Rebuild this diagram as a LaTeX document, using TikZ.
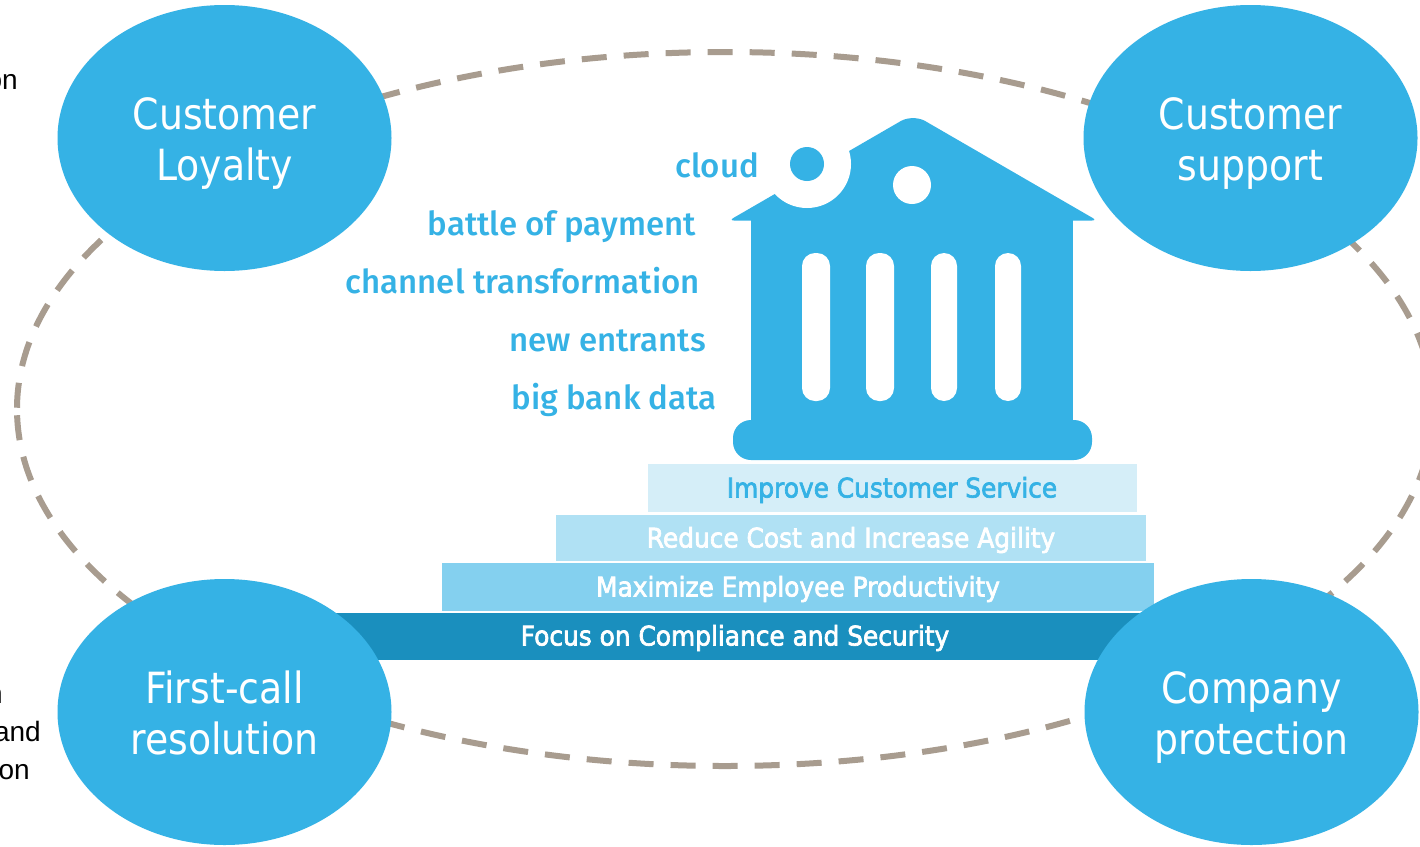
\documentclass[tikz,border=0pt]{standalone}
\usepackage{fontspec}
\setmainfont{DejaVu Sans}
\newfontfamily\ovalfont[FakeStretch=0.88]{DejaVu Sans}
\newfontfamily\barfont[FakeStretch=0.92,FakeBold=2.5]{DejaVu Sans}
\newfontfamily\sidefont{Fira Sans Medium}
\newfontfamily\cutfont{Liberation Sans}
\usetikzlibrary{shapes.geometric}
\definecolor{ovalblue}{HTML}{35B2E5}
\definecolor{ringgrey}{HTML}{A89C8F}
\definecolor{barone}{HTML}{D5EEF8}
\definecolor{bartwo}{HTML}{B0E1F4}
\definecolor{barthree}{HTML}{84D0EF}
\definecolor{barfour}{HTML}{1A8FBE}
\begin{document}
\begin{tikzpicture}[x=1pt,y=-1pt,
    oval/.style={shape = ellipse, fill=ovalblue, text=white, inner sep=0pt, minimum width=334, minimum height=266, align=center, text height=87, text depth=3, font=\ovalfont\fontsize{43}{51}\selectfont},
    sidelabel/.style={anchor=east, inner sep=0pt, text=ovalblue, text height=24, text depth=7, font=\sidefont\fontsize{33}{38}\selectfont},
    bar/.style={shape = rectangle, inner sep=0pt},
    bartext/.style={inner sep=0pt, text height=19, text depth=6, font=\barfont\fontsize{27}{32}\selectfont},
    cuttext/.style={anchor=east, inner sep=0pt, text=black, text height=20, text depth=6, font=\cutfont\fontsize{28}{32}\selectfont}]
    \clip (0, 0) rectangle (1420, 846);
    \fill[white] (0, 0) rectangle (1420, 846);
    \draw[ringgrey, line width=6pt, dash pattern=on 25pt off 17.04pt] (725, 409) ++(179:708 and 357) arc [start angle=179, end angle=-180, x radius=708, y radius=357];
    \node (CutOne) [cuttext] at (18, 82) {on};
    \node (CutTwo) [cuttext] at (3, 696) {n};
    \node (CutThree) [cuttext] at (41, 734) {and};
    \node (CutFour) [cuttext] at (30, 772) {on};
    \fill[ovalblue, rounded corners=18] (733, 420) rectangle (1092, 460);
    \fill[ovalblue] (751, 218) rectangle (1073, 430);
    \fill[ovalblue, rounded corners=5] (729, 220.5) [rounded corners=14] -- (913, 114) [rounded corners=5] -- (1097, 220.5) -- cycle;
    \foreach \colleft/\colright in {802/830, 866/894, 931/957, 995/1021}
        \fill[white, rounded corners=13] (\colleft, 253) rectangle (\colright, 401);
    \fill[white] (912, 185) circle [radius=19];
    \fill[white] (807, 164) circle [radius=44];
    \fill[ovalblue] (807, 164) circle [radius=17];
    \node (Cloud) [sidelabel] at (759, 168.5) {cloud};
    \node (Battle) [sidelabel] at (696, 226.5) {battle of payment};
    \node (Channel) [sidelabel] at (700, 284.5) {channel transformation};
    \node (Entrants) [sidelabel] at (706, 342.5) {new entrants};
    \node (BigData) [sidelabel] at (717, 400.5) {big bank data};
    \node (ImproveBar) [bar, fill=barone, minimum width=489, minimum height=48] at (892.5, 488) {};
    \node (ReduceBar) [bar, fill=bartwo, minimum width=590, minimum height=46] at (851, 538) {};
    \node (MaximizeBar) [bar, fill=barthree, minimum width=712, minimum height=48] at (798, 587) {};
    \node (FocusBar) [bar, fill=barfour, minimum width=820, minimum height=47] at (740, 636.5) {};
    \node (ImproveText) [bartext, text=ovalblue] at (892, 491) {Improve Customer Service};
    \node (ReduceText) [bartext, text=white] at (851, 541) {Reduce Cost and Increase Agility};
    \node (MaximizeText) [bartext, text=white] at (798, 590) {Maximize Employee Productivity};
    \node (FocusText) [bartext, text=white] at (735, 639) {Focus on Compliance and Security};
    \node (Loyalty) [oval] at (224.5, 138) {Customer\\Loyalty};
    \node (Support) [oval] at (1250.5, 138) {Customer\\support};
    \node (FirstCall) [oval] at (224.5, 712) {First-call\\resolution};
    \node (Protection) [oval] at (1251.5, 712) {Company\\protection};
\end{tikzpicture}
\end{document}
